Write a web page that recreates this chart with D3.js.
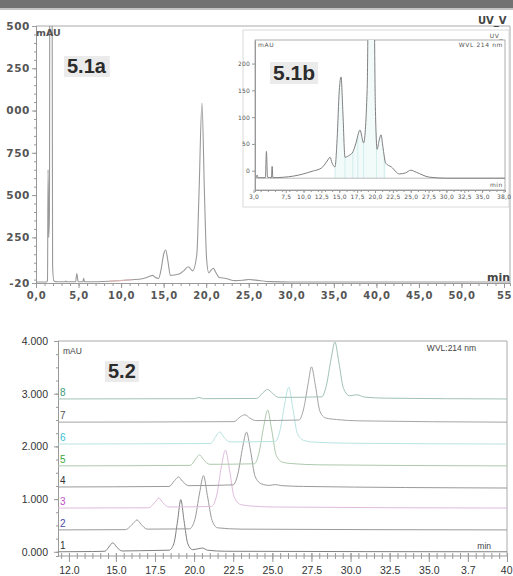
<!DOCTYPE html>
<html>
<head>
<meta charset="utf-8">
<script src="https://cdn.jsdelivr.net/npm/d3@7"></script>
<style>
  body { margin: 0; background: #fff; }
  svg { display: block; font-family: "Liberation Sans", Arial, sans-serif; }
</style>
</head>
<body>
<svg id="chart" width="513" height="576"></svg>
<script>
// ---------- data ----------
// 5.1 chromatogram: [time (min), signal (mAU)]
const chrom51 = [
  [0, -14], [1.2, -14], [1.35, -5], [1.42, 650], [1.5, 250], [1.58, 400], [1.65, 3000], [1.85, 3000],
  [1.95, 80], [2.1, -8], [2.5, -13], [3.4, -13], [3.5, -8], [3.6, -13], [4.65, -13], [4.8, 36],
  [4.95, -12], [5.5, -13], [5.6, 8], [5.7, -13], [8.6, -10], [11.2, -1], [12.5, 5], [13.3, 18],
  [13.7, 25], [14.0, 14], [14.4, 7], [14.7, 60], [15.0, 150], [15.25, 175], [15.5, 110], [15.8, 25],
  [16.3, 28], [16.9, 35], [17.3, 50], [17.9, 76], [18.4, 52], [18.9, 150], [19.15, 500], [19.5, 1045],
  [19.8, 500], [20.05, 120], [20.3, 40], [20.55, 55], [20.85, 67], [21.1, 45], [21.5, 14], [22.3, 7],
  [23.4, -6], [24.3, -4], [25.0, 1], [25.8, -3], [27.6, -12], [30, -14], [55.7, -14]
];
const pinkSpan51 = [5.8, 11.5];              // reddish part of the baseline
const dropTimes51b = [14.4, 15.8, 16.9, 17.6, 18.4, 20.2, 21.3];

const xTicksA = [0, 5, 10, 15, 20, 25, 30, 35, 40, 45, 50, 55];
const xTickLabelsA = ["0,0", "5,0", "10,0", "15,0", "20,0", "25,0", "30,0", "35,0", "40,0", "45,0", "50,0", "55"];
const yTicksA = [-20, 250, 500, 750, 1000, 1250, 1500];
const yTickLabelsA = ["-20", "250", "500", "750", "000", "250", "500"];
const xTicksB = [3, 7.5, 10, 12.5, 15, 17.5, 20, 22.5, 25, 27.5, 30, 32.5, 35, 38];
const yTicksB = [0, 50, 100, 150, 200];

// 5.2 stacked runs: baseline offset (mAU) and profile above baseline
const runNames = ["1", "2", "3", "4", "5", "6", "7", "8"];
const runOffsets = [0, 415, 830, 1230, 1630, 2045, 2460, 2900];
const run1 = [[11.3,0],[13.5,5],[14.3,10],[14.55,90],[14.8,170],[15.05,90],[15.4,15],[16.5,20],[17.5,25],[18.4,30],[18.7,150],[18.95,600],[19.15,990],[19.35,600],[19.6,150],[19.9,40],[20.3,60],[20.55,70],[20.85,30],[22,10],[40,0]];
const run2 = [[11.3,0],[15.6,5],[16.1,120],[16.35,190],[16.6,110],[17.0,15],[19.7,20],[20.05,200],[20.35,700],[20.6,1030],[20.85,650],[21.15,180],[21.5,40],[23,15],[40,0]];
const run3 = [[11.3,0],[17.1,5],[17.5,110],[17.75,190],[18.0,100],[18.4,20],[21.1,30],[21.45,250],[21.75,800],[22.0,1100],[22.25,750],[22.55,220],[22.95,70],[23.6,40],[25,20],[40,0]];
const run4 = [[11.3,0],[18.4,10],[18.75,120],[19.0,190],[19.25,110],[19.65,25],[22.5,40],[22.8,250],[23.1,750],[23.35,1040],[23.6,700],[23.9,200],[24.3,60],[24.8,30],[25.2,45],[25.6,25],[27,10],[40,-20]];
const run5 = [[11.3,0],[19.75,10],[20.1,130],[20.35,210],[20.6,120],[21.0,30],[23.85,40],[24.15,250],[24.45,750],[24.7,1060],[24.95,700],[25.25,200],[25.65,70],[26.2,45],[28,20],[40,0]];
const run6 = [[11.3,0],[21.05,10],[21.4,150],[21.65,230],[21.9,130],[22.3,40],[25.2,50],[25.5,270],[25.8,780],[26.05,1080],[26.3,700],[26.6,200],[27.0,70],[27.7,35],[30,15],[40,0]];
const run7 = [[11.3,0],[22.55,10],[22.95,100],[23.25,140],[23.55,80],[23.95,30],[26.7,40],[27.0,250],[27.3,750],[27.5,1050],[27.75,700],[28.05,200],[28.4,80],[29.1,50],[30.5,25],[40,0]];
const run8 = [[11.3,0],[20.0,5],[20.3,30],[20.6,5],[24.0,10],[24.4,120],[24.7,180],[25.0,110],[25.4,30],[28.15,40],[28.45,250],[28.75,750],[29.0,1080],[29.25,700],[29.55,200],[29.95,60],[30.4,80],[30.9,35],[32.3,15],[40,0]];
const runs = [run1, run2, run3, run4, run5, run6, run7, run8];
const runColors = ["#808080", "#9a9a9a", "#e0bcdc", "#9a9a9a", "#adc9ad", "#b8e4e2", "#a4a4a4", "#a0c2b4"];
const runLabelColors = ["#333", "#4a4aa8", "#c050c0", "#333", "#3aa83a", "#36c2d2", "#555", "#3a9a80"];

const xTicksC = [12, 15, 17.5, 20, 22.5, 25, 27.5, 30, 32.5, 35, 37.5, 40];
const xTickLabelsC = ["12.0", "15.0", "17.5", "20.0", "22.5", "25.0", "27.5", "30.0", "32.5", "35.0", "3.7", "40"];
const yTicksC = [0, 1000, 2000, 3000, 4000];

// ---------- helpers ----------
const svg = d3.select("#chart");
const defs = svg.append("defs");

const clip = (id, x, y, w, h) => {
  defs.append("clipPath").attr("id", id).append("rect")
    .attr("x", x).attr("y", y).attr("width", w).attr("height", h);
  return `url(#${id})`;
};

const styleAxis = (g, opts) => {
  g.select(".domain").attr("stroke", opts.line || "#999");
  g.selectAll(".tick line").attr("stroke", opts.line || "#999");
  g.selectAll(".tick text")
    .attr("fill", opts.color)
    .attr("font-family", opts.family)
    .attr("font-weight", opts.weight || "normal")
    .style("letter-spacing", opts.spacing || "0px")
    .style("font-size", opts.size + "px");
};

const tag = (x, y, text, size) => {
  const g = svg.append("g");
  const r = g.append("rect").attr("fill", "#ebebeb");
  const t = g.append("text").attr("x", x).attr("y", y).text(text)
    .attr("font-size", size).attr("font-weight", "bold").attr("fill", "#2b2b2b");
  const b = t.node().getBBox();
  r.attr("x", b.x - 3).attr("y", b.y + 1).attr("width", b.width + 6).attr("height", b.height - 1);
};

const interp = (data, t) => {
  const i = d3.bisector(d => d[0]).left(data, t);
  const a = data[i - 1], b = data[i];
  return a[1] + (b[1] - a[1]) * (t - a[0]) / (b[0] - a[0]);
};

// top grey band
svg.append("rect").attr("width", 513).attr("height", 8).attr("fill", "#727272");
svg.append("rect").attr("y", 8).attr("width", 513).attr("height", 2).attr("fill", "#c4c4c4");

// ---------- 5.1a ----------
const xA = d3.scaleLinear().domain([0, 55.7]).range([36, 510]);
const yA = d3.scaleLinear().domain([-20, 1500]).range([283, 26]);
const gA = svg.append("g");

gA.append("path")
  .attr("d", `M${xA(0)},${yA(1500)}H${xA(55.7)}V${yA(-20)}`)
  .attr("fill", "none").attr("stroke", "#aaa");

gA.append("g").attr("transform", `translate(0,${yA(-20)})`)
  .call(d3.axisBottom(xA).tickValues(d3.range(0, 56, 1)).tickSize(3).tickFormat(""))
  .call(g => styleAxis(g, {}));
gA.append("g").attr("transform", `translate(0,${yA(-20)})`)
  .call(d3.axisBottom(xA).tickValues(xTicksA).tickSize(5).tickSizeOuter(0).tickPadding(4)
    .tickFormat((d, i) => xTickLabelsA[i]))
  .call(g => styleAxis(g, { color: "#555", family: "DejaVu Sans", weight: "bold", size: 10, spacing: "0.6px" }));

gA.append("g").attr("transform", `translate(${xA(0)},0)`)
  .call(d3.axisLeft(yA).tickValues(d3.range(0, 1501, 50)).tickSize(2).tickFormat(""))
  .call(g => styleAxis(g, {}));
gA.append("g").attr("transform", `translate(${xA(0)},0)`)
  .call(d3.axisLeft(yA).tickValues(yTicksA).tickSize(4).tickSizeOuter(0).tickPadding(2)
    .tickFormat((d, i) => yTickLabelsA[i]))
  .call(g => styleAxis(g, { color: "#555", family: "DejaVu Sans", weight: "bold", size: 10.5, spacing: "0.6px" }));

const lineA = d3.line().x(d => xA(d[0])).y(d => yA(d[1])).curve(d3.curveMonotoneX);
const plotA = gA.append("g").attr("clip-path", clip("clipA", 36, 26, 474, 258));
plotA.append("path").datum(chrom51).attr("d", lineA)
  .attr("fill", "none").attr("stroke", "#999").attr("stroke-width", 1.1);
plotA.append("path").datum(chrom51.filter(d => d[0] >= pinkSpan51[0] && d[0] <= pinkSpan51[1]))
  .attr("d", lineA).attr("fill", "none").attr("stroke", "#e6b4b4").attr("stroke-width", 1.1);

gA.append("text").attr("x", 36).attr("y", 36).text("mAU")
  .attr("font-family", "DejaVu Sans").attr("font-weight", "bold").attr("font-size", 9.5).attr("fill", "#555");
gA.append("text").attr("x", 510).attr("y", 281).attr("text-anchor", "end").text("min")
  .attr("font-family", "DejaVu Sans").attr("font-weight", "bold").attr("font-size", 11).attr("fill", "#444");
gA.append("text").attr("x", 478).attr("y", 24).text("UV_V")
  .attr("font-family", "DejaVu Sans").attr("font-weight", "bold").attr("font-size", 10).attr("fill", "#444");
tag(67, 73, "5.1a", 20);

// ---------- 5.1b inset ----------
const xB = d3.scaleLinear().domain([3.2, 38.2]).range([255, 505]);
const yB = d3.scaleLinear().domain([-36, 244]).range([190, 40]);
const gB = svg.append("g");
gB.append("rect").attr("x", 243).attr("y", 30).attr("width", 266).attr("height", 177)
  .attr("fill", "#fff").attr("stroke", "#cfcfcf").attr("stroke-width", 0.8);
gB.append("rect").attr("x", xB(3.2)).attr("y", yB(244)).attr("width", xB(38.2) - xB(3.2)).attr("height", yB(-36) - yB(244))
  .attr("fill", "none").attr("stroke", "#999").attr("stroke-width", 0.8);

const small = { color: "#555", family: "DejaVu Sans", size: 6, spacing: "0.2px" };
gB.append("g").attr("transform", `translate(0,${yB(-36)})`)
  .call(d3.axisBottom(xB).tickValues(d3.range(4, 38, 1)).tickSize(2).tickFormat(""))
  .call(g => styleAxis(g, {}));
gB.append("g").attr("transform", `translate(0,${yB(-36)})`)
  .call(d3.axisBottom(xB).tickValues(xTicksB).tickSize(3).tickSizeOuter(0).tickPadding(2)
    .tickFormat(d => d3.format(".1f")(d).replace(".", ",")))
  .call(g => styleAxis(g, small));
gB.append("g").attr("transform", `translate(${xB(3.2)},0)`)
  .call(d3.axisLeft(yB).tickValues(yTicksB).tickSize(3).tickSizeOuter(0).tickPadding(2).tickFormat(d3.format("d")))
  .call(g => styleAxis(g, small));

const plotB = gB.append("g").attr("clip-path", clip("clipB", 255, 40, 250, 150));
const baseB = yB(-14);
const areaB = d3.area().x(d => xB(d[0])).y0(baseB).y1(d => yB(d[1])).curve(d3.curveMonotoneX);
plotB.append("path").datum(chrom51.filter(d => d[0] >= 14.4 && d[0] <= 21.5))
  .attr("d", areaB).attr("fill", "#f3fbfa");
plotB.selectAll("line.drop").data(dropTimes51b).join("line").attr("class", "drop")
  .attr("x1", d => xB(d)).attr("x2", d => xB(d))
  .attr("y1", baseB).attr("y2", d => yB(interp(chrom51, d)))
  .attr("stroke", "#bfe8e4").attr("stroke-width", 0.7);
plotB.append("line").attr("x1", xB(3.2)).attr("x2", xB(38.2)).attr("y1", baseB).attr("y2", baseB)
  .attr("stroke", "#a0a0a0").attr("stroke-width", 0.7);
const lineB = d3.line().x(d => xB(d[0])).y(d => yB(d[1])).curve(d3.curveMonotoneX);
plotB.append("path").datum(chrom51.filter(d => d[0] >= 3)).attr("d", lineB)
  .attr("fill", "none").attr("stroke", "#808080").attr("stroke-width", 1);

const tinyText = (x, y, text, anchor) => gB.append("text").attr("x", x).attr("y", y).text(text)
  .attr("text-anchor", anchor || "start").attr("font-family", "DejaVu Sans").attr("font-size", 6)
  .style("letter-spacing", "0.6px").attr("fill", "#555");
tinyText(258, 47, "mAU");
tinyText(503, 38, "UV_", "end");
tinyText(503, 47, "WVL 214 nm", "end");
tinyText(503, 187, "min", "end");
tag(273, 80, "5.1b", 21);

// ---------- 5.2 ----------
const xC = d3.scaleLinear().domain([11.3, 40]).range([58, 507]);
const yC = d3.scaleLinear().domain([-80, 4000]).range([556, 341]);
const gC = svg.append("g");

gC.append("path")
  .attr("d", `M${xC(11.3)},${yC(4000)}H${xC(40)}V${yC(-80)}`)
  .attr("fill", "none").attr("stroke", "#aaa");

gC.append("g").attr("transform", `translate(0,${yC(-80) - 3})`)
  .call(d3.axisBottom(xC).tickValues(d3.range(11.5, 40.01, 0.5)).tickSize(6).tickFormat(""))
  .call(g => styleAxis(g, {}));
gC.append("g").attr("transform", `translate(0,${yC(-80) - 3})`)
  .call(d3.axisBottom(xC).tickValues(xTicksC).tickSize(9).tickSizeOuter(0).tickPadding(5)
    .tickFormat((d, i) => xTickLabelsC[i]))
  .call(g => styleAxis(g, { color: "#333", family: "Liberation Sans", size: 10.5 }));
gC.selectAll("path.domain").remove();
gC.append("line").attr("x1", xC(11.3)).attr("x2", xC(40)).attr("y1", yC(-80)).attr("y2", yC(-80))
  .attr("stroke", "#999");
// keep the last, edge label inside the page
gC.selectAll(".tick text").filter(d => d === 40).attr("text-anchor", "end").attr("dx", 5);

gC.append("g").attr("transform", `translate(${xC(11.3)},0)`)
  .call(d3.axisLeft(yC).tickValues(d3.range(0, 4001, 250)).tickSize(2).tickFormat(""))
  .call(g => styleAxis(g, {}));
gC.append("g").attr("transform", `translate(${xC(11.3)},0)`)
  .call(d3.axisLeft(yC).tickValues(yTicksC).tickSize(4).tickSizeOuter(0).tickPadding(6)
    .tickFormat(d => (d / 1000).toFixed(3)))
  .call(g => styleAxis(g, { color: "#333", family: "Liberation Sans", size: 10.5 }));

const plotC = gC.append("g").attr("clip-path", clip("clipC", 58, 341, 449, 215));
runs.forEach((run, i) => {
  const line = d3.line().x(d => xC(d[0])).y(d => yC(d[1] + runOffsets[i])).curve(d3.curveMonotoneX);
  plotC.append("path").datum(run).attr("d", line)
    .attr("fill", "none").attr("stroke", runColors[i]).attr("stroke-width", 1);
});
gC.selectAll("text.run").data(runNames).join("text").attr("class", "run")
  .attr("x", xC(11.3) + 2).attr("y", (d, i) => yC(runOffsets[i]) - 3)
  .text(d => d).attr("font-size", 10).attr("fill", (d, i) => runLabelColors[i]);

gC.append("text").attr("x", 63).attr("y", 354).text("mAU").attr("font-size", 8.5).attr("fill", "#444");
gC.append("text").attr("x", 476).attr("y", 351).attr("text-anchor", "end").text("WVL:214 nm")
  .attr("font-size", 8.5).attr("fill", "#444");
gC.append("text").attr("x", 491).attr("y", 549).attr("text-anchor", "end").text("min")
  .attr("font-size", 8.5).attr("fill", "#444");
tag(108, 378, "5.2", 20);
</script>
</body>
</html>
